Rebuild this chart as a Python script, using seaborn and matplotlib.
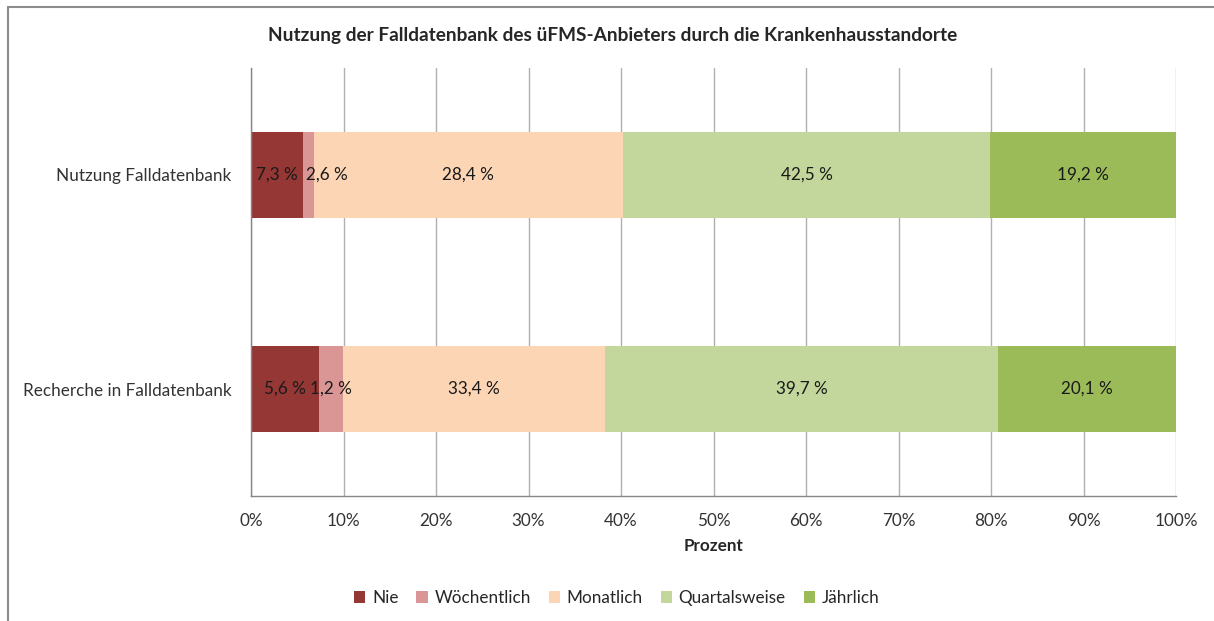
import matplotlib
matplotlib.use("Agg")
import matplotlib.pyplot as plt
import seaborn as sns
import pandas as pd
from matplotlib.patches import Patch
from matplotlib.lines import Line2D

# Categories (top to bottom) and answer options
categories = ["Nutzung Falldatenbank", "Recherche in Falldatenbank"]
series = ["Nie", "Wöchentlich", "Monatlich", "Quartalsweise", "Jährlich"]
colors = ["#953735", "#D99694", "#FCD5B5", "#C3D69B", "#9BBB59"]

# segment lengths as drawn in the original (percent)
nie = [5.6, 7.3]
woechentlich = [1.2, 2.6]
monatlich = [33.4, 28.4]
quartalsweise = [39.7, 42.5]
jaehrlich = [20.1, 19.2]

# data labels as printed in the original (percent)
label_nie = [7.3, 5.6]
label_woechentlich = [2.6, 1.2]
label_monatlich = [28.4, 33.4]
label_quartalsweise = [42.5, 39.7]
label_jaehrlich = [19.2, 20.1]

df = pd.DataFrame({
    "Kategorie": categories,
    "Nie": nie,
    "Wöchentlich": woechentlich,
    "Monatlich": monatlich,
    "Quartalsweise": quartalsweise,
    "Jährlich": jaehrlich,
})
labels = pd.DataFrame({
    "Nie": label_nie,
    "Wöchentlich": label_woechentlich,
    "Monatlich": label_monatlich,
    "Quartalsweise": label_quartalsweise,
    "Jährlich": label_jaehrlich,
})

sns.set_style("white")
plt.rcParams["font.family"] = ["Lato", "DejaVu Sans"]
FS = 12.3

fig = plt.figure(figsize=(12.14, 6.21), dpi=100)
ax = fig.add_axes([251 / 1214, 1 - 496 / 621, 925 / 1214, 428 / 621])

# stacked bars: draw cumulative totals from the last series backwards
cum = df[series].cumsum(axis=1)
for name, col in reversed(list(zip(series, colors))):
    sns.barplot(data=cum, x=cum[name], y=df["Kategorie"], orient="y",
                color=col, saturation=1, width=0.4, linewidth=0, ax=ax)

# data labels
starts = cum - df[series]
for i in range(len(categories)):
    for name in series:
        w = df.loc[i, name]
        s = starts.loc[i, name]
        txt = f"{labels.loc[i, name]:.1f} %".replace(".", ",")
        if w < 2:
            ax.text(s + 0.35, i, txt, ha="left", va="center", fontsize=FS, color="#1a1a1a")
        else:
            ax.text(s + w / 2, i, txt, ha="center", va="center", fontsize=FS, color="#1a1a1a")

ax.set_xlim(0, 100)
ax.set_ylim(1.5, -0.5)
ax.set_xticks(range(0, 101, 10))
ax.set_xticklabels([f"{t}%" for t in range(0, 101, 10)], fontsize=FS, color="#333333")
ax.set_yticks([0, 1])
ax.set_yticklabels(categories, fontsize=FS, color="#333333")
ax.set_yticks([-0.5, 0.5, 1.5], minor=True)
ax.tick_params(axis="y", which="major", length=0, pad=14)
ax.tick_params(axis="y", which="minor", length=5, direction="out", color="#868686", width=1)
ax.tick_params(axis="x", length=5, direction="out", color="#868686", width=1, pad=7)
ax.set_axisbelow(True)
ax.grid(axis="x", color="#B0B0B0", linewidth=1)
ax.grid(axis="y", visible=False)
for side in ["top", "right"]:
    ax.spines[side].set_visible(False)
for side in ["left", "bottom"]:
    ax.spines[side].set_color("#868686")
    ax.spines[side].set_linewidth(1)
ax.set_xlabel("Prozent", fontsize=FS, fontweight="bold", labelpad=7)
ax.set_ylabel("")

fig.text(0.505, 1 - 35 / 621,
         "Nutzung der Falldatenbank des üFMS-Anbieters durch die Krankenhausstandorte",
         ha="center", va="center", fontsize=13.7, fontweight="bold")

handles = [Patch(facecolor=c, edgecolor="none", label=n) for n, c in zip(series, colors)]
fig.legend(handles=handles, loc="center", bbox_to_anchor=(0.508, 1 - 598 / 621), ncol=5,
           frameon=False, fontsize=FS, handlelength=0.65, handleheight=0.65,
           handletextpad=0.4, columnspacing=1.05)

# outer frame of the chart object (cropped on the right and bottom)
fig.add_artist(Line2D([8 / 1214, 1], [1 - 7 / 621] * 2, color="#8c8c8c", lw=1.5,
                      transform=fig.transFigure))
fig.add_artist(Line2D([8 / 1214] * 2, [0, 1 - 7 / 621], color="#8c8c8c", lw=1.5,
                      transform=fig.transFigure))

fig.savefig("out.png", dpi=100, facecolor="white")
